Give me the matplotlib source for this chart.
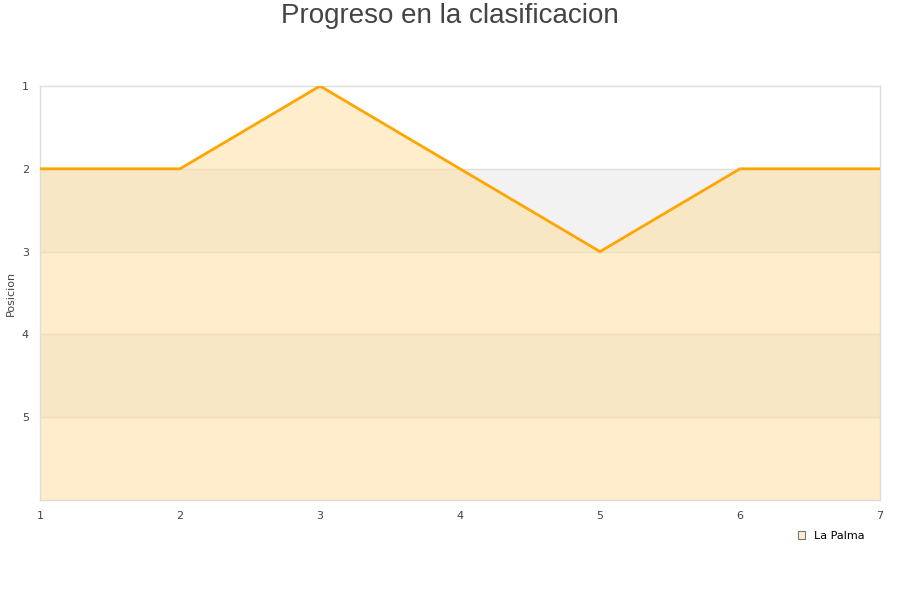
import matplotlib
matplotlib.use("Agg")
import matplotlib.pyplot as plt
from matplotlib.patches import Patch

jornadas = [1, 2, 3, 4, 5, 6, 7]
posicion = [2, 2, 1, 2, 3, 2, 2]
y_ticks = [1, 2, 3, 4, 5]
equipo = "La Palma"

fig = plt.figure(figsize=(9, 6), dpi=100)
ax = fig.add_axes([40 / 900, 100 / 600, 840 / 900, 414 / 600])

ax.set_xlim(1, 7)
ax.set_ylim(6, 1)

# franjas alternas de fondo
for y0 in range(1, 6):
    if y0 % 2 == 0:
        ax.axhspan(y0, y0 + 1, color="#f2f2f2", zorder=0, lw=0)
for y0 in range(2, 6):
    ax.axhline(y0, color="#e0e0e0", lw=1, zorder=1)

ax.fill_between(jornadas, posicion, 6, color="#ffdd99", alpha=0.5, lw=0, zorder=2)
ax.plot(jornadas, posicion, color="#ffa500", lw=2, zorder=3)

ax.set_xticks(jornadas)
ax.set_yticks(y_ticks)
ax.tick_params(length=0, labelsize=8, colors="#444444", pad=8)
for s in ax.spines.values():
    s.set_color("#dddddd")
    s.set_linewidth(1)

ax.set_ylabel("Posicion", fontsize=8, color="#444444", labelpad=4)
fig.suptitle("Progreso en la clasificacion", fontsize=20, color="#444444", y=0.995,
             family="Liberation Sans")

ax.legend(handles=[Patch(facecolor="#ffeecc", edgecolor="#777777", lw=0.8, label=equipo)],
          loc="upper right", bbox_to_anchor=(0.994, -0.05), frameon=False, fontsize=8,
          handlelength=0.7, handleheight=0.7, handletextpad=0.8)

fig.savefig("out.png", dpi=100)
